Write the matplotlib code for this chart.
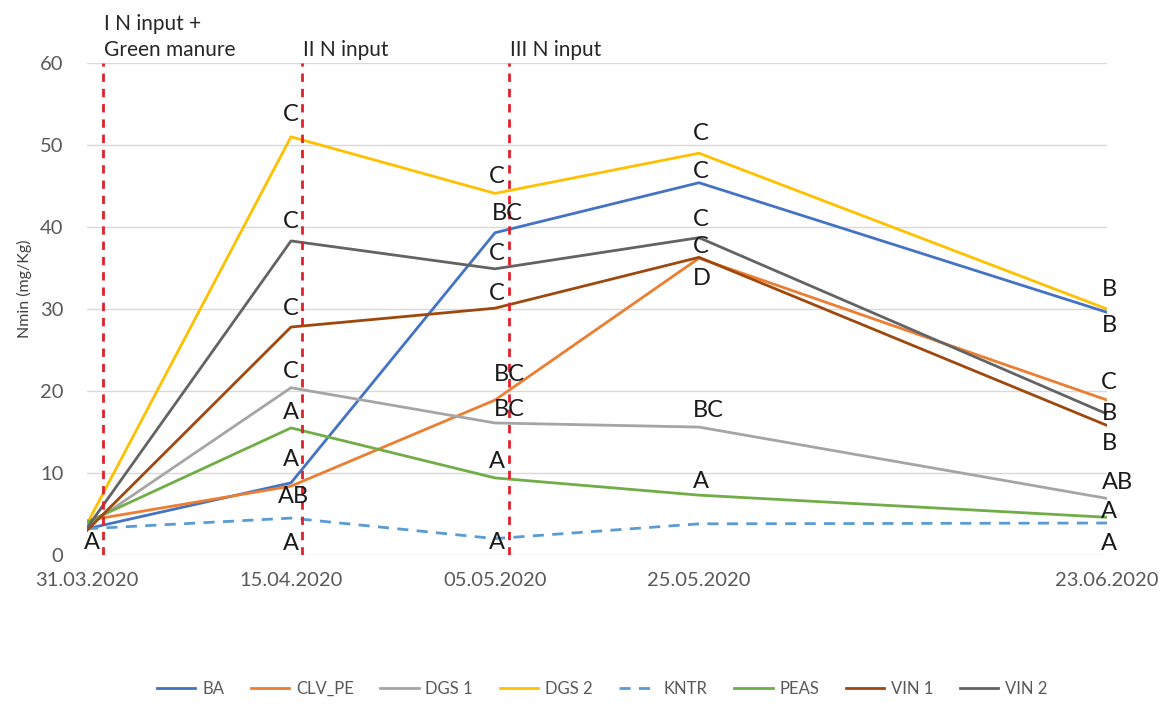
import matplotlib
matplotlib.use("Agg")
import matplotlib.pyplot as plt

plt.rcParams['font.family'] = ['Lato', 'DejaVu Sans']

# Sampling dates and their positions on the category axis (one empty slot before the last date)
dates = ["31.03.2020", "15.04.2020", "05.05.2020", "25.05.2020", "23.06.2020"]
date_pos = [0, 1, 2, 3, 5]

# Nmin (mg/Kg) per treatment
BA     = [3.2, 8.8, 39.3, 45.4, 29.6]
CLV_PE = [4.2, 8.4, 18.9, 36.2, 18.9]
DGS_1  = [3.5, 20.4, 16.1, 15.6, 6.9]
DGS_2  = [3.8, 51.0, 44.1, 49.0, 30.0]
KNTR   = [3.2, 4.5, 2.0, 3.8, 3.9]
PEAS   = [4.0, 15.5, 9.4, 7.3, 4.6]
VIN_1  = [3.0, 27.8, 30.1, 36.3, 15.8]
VIN_2  = [3.3, 38.3, 34.9, 38.7, 17.2]

# Significance letters (None = no label)
BA_sig     = [None, "A", "BC", "C", "B"]
CLV_PE_sig = [None, "AB", "BC", "D", "C"]
DGS_1_sig  = [None, "C", "BC", "BC", "AB"]
DGS_2_sig  = [None, "C", "C", "C", "B"]
KNTR_sig   = ["A", "A", "A", None, "A"]
PEAS_sig   = [None, "A", "A", "A", "A"]
VIN_1_sig  = [None, "C", "C", "C", "B"]
VIN_2_sig  = [None, "C", "C", "C", "B"]

# N input events (positions on the category axis) and their captions
event_pos = [0.078, 1.054, 2.07]
event_text = ["I N input +\nGreen manure", "II N input", "III N input"]

series = [
    ("BA", BA, BA_sig, "#4472C4", "-"),
    ("CLV_PE", CLV_PE, CLV_PE_sig, "#ED7D31", "-"),
    ("DGS 1", DGS_1, DGS_1_sig, "#A5A5A5", "-"),
    ("DGS 2", DGS_2, DGS_2_sig, "#FFC000", "-"),
    ("KNTR", KNTR, KNTR_sig, "#5B9BD5", "--"),
    ("PEAS", PEAS, PEAS_sig, "#70AD47", "-"),
    ("VIN 1", VIN_1, VIN_1_sig, "#9E480E", "-"),
    ("VIN 2", VIN_2, VIN_2_sig, "#636363", "-"),
]

# Label offsets in pixels (dx right, dy up) from each point
label_offsets = {
    "BA":     [(0, 0), (0, 23), (12, 19), (2, 11), (2, -13)],
    "CLV_PE": [(0, 0), (2, -10), (14, 26), (3, -20), (2, 18)],
    "DGS 1":  [(0, 0), (0, 16), (14, 13), (9, 17), (10, 16)],
    "DGS 2":  [(0, 0), (0, 22), (2, 17), (2, 20), (2, 20)],
    "KNTR":   [(5, -14), (0, -25), (2, -4), (0, 0), (2, -20)],
    "PEAS":   [(0, 0), (0, 15), (2, 16), (2, 14), (2, 6)],
    "VIN 1":  [(0, 0), (0, 19), (2, 15), (2, 11), (2, -18)],
    "VIN 2":  [(0, 0), (0, 19), (2, 15), (2, 18), (2, 0)],
}

fig = plt.figure(figsize=(11.65, 7.06), dpi=100)
ax = fig.add_axes([87 / 1165, 1 - 555 / 706, (1107 - 87) / 1165, (555 - 63) / 706])

ax.set_xlim(0, 5)
ax.set_ylim(0, 60)
ax.set_yticks(range(0, 61, 10))
ax.yaxis.grid(True, color="#D9D9D9", linewidth=1.0)
ax.set_axisbelow(True)
for s in ax.spines.values():
    s.set_visible(False)
ax.tick_params(axis="both", length=0, labelsize=14.5, labelcolor="#595959")
ax.tick_params(axis="y", pad=17)
ax.tick_params(axis="x", pad=12)
ax.set_xticks(date_pos)
ax.set_xticklabels(dates)

for name, vals, sig, color, ls in series:
    if ls == "--":
        ax.plot(date_pos, vals, color=color, linestyle=(0, (4, 3)), linewidth=2.0,
                label=name, zorder=3)
    else:
        ax.plot(date_pos, vals, color=color, linestyle=ls, linewidth=2.0,
                label=name, zorder=3)
    for i, (x, y, txt) in enumerate(zip(date_pos, vals, sig)):
        if txt is None:
            continue
        dx, dy = label_offsets[name][i]
        ax.annotate(txt, (x, y), xytext=(dx, dy), textcoords="offset pixels",
                    ha="center", va="center", fontsize=17, color="#1a1a1a",
                    zorder=5)

for xp, txt in zip(event_pos, event_text):
    ax.axvline(xp, ymin=0, ymax=1, color="#E0202A", linestyle=(0, (3, 2.5)),
               linewidth=2.0, zorder=4)
    ax.text(xp + 0.005, 60.4, txt, ha="left", va="bottom", fontsize=15,
            color="#262626", linespacing=1.35)

fig.text(24 / 1165, 1 - 289 / 706, "Nmin (mg/Kg)", rotation=90, ha="center",
         va="center", fontsize=11.5, color="#404040")

fig.legend(loc="center", bbox_to_anchor=(0.517, 1 - 689 / 706), ncol=8,
           frameon=False, fontsize=12, handlelength=2.3, columnspacing=1.6,
           handletextpad=0.4, labelcolor="#595959")

fig.savefig("out.png", dpi=100)
